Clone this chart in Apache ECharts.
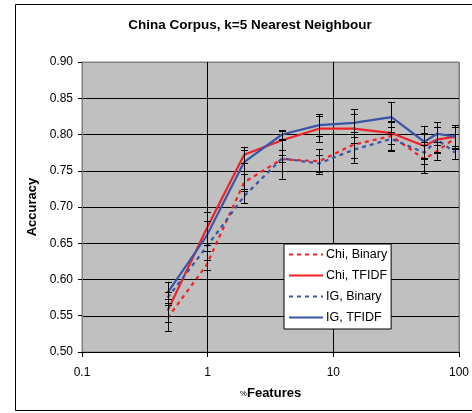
<!DOCTYPE html>
<html>
<head>
<meta charset="utf-8">
<script src="https://cdn.jsdelivr.net/npm/echarts@6/dist/echarts.min.js"></script>
<style>
html,body{margin:0;padding:0;background:#fff;}
#c{width:472px;height:413px;}
</style>
</head>
<body>
<div id="c"></div>
<script>
// ---- data ----
const features = [0.48, 0.98, 1.95, 3.9, 7.7, 14.5, 29, 53, 67, 93];
const seriesNames = ['Chi, Binary', 'Chi, TFIDF', 'IG, Binary', 'IG, TFIDF'];
const chiBinary = [0.547, 0.620, 0.734, 0.766, 0.763, 0.786, 0.798, 0.766, 0.777, 0.795];
const chiTfidf  = [0.557, 0.670, 0.772, 0.792, 0.808, 0.808, 0.802, 0.784, 0.793, 0.797];
const igBinary  = [0.575, 0.645, 0.715, 0.767, 0.760, 0.779, 0.794, 0.775, 0.793, 0.775];
const igTfidf   = [0.582, 0.660, 0.762, 0.800, 0.813, 0.816, 0.824, 0.790, 0.801, 0.797];
const chiBinaryErr = [0.018, 0.007, 0.012, 0.027, 0.017, 0.018, 0.020, 0.019, 0.012, 0.015];
const chiTfidfErr  = [0.016, 0.023, 0.011, 0.013, 0.018, 0.020, 0.015, 0.018, 0.018, 0.013];
const igBinaryErr  = [0.008, 0.005, 0.010, 0.005, 0.012, 0.018, 0.017, 0.015, 0.017, 0.009];
const igTfidfErr   = [0.015, 0.021, 0.016, 0.006, 0.015, 0.019, 0.021, 0.022, 0.016, 0.016];
const yTicks = ['0.50','0.55','0.60','0.65','0.70','0.75','0.80','0.85','0.90'];
const xTicks = ['0.1','1','10','100'];

const values = [chiBinary, chiTfidf, igBinary, igTfidf];
const errs = [chiBinaryErr, chiTfidfErr, igBinaryErr, igTfidfErr];
const colors = ['#ee2227', '#ee2227', '#3a55a8', '#3a55a8'];
const dashed = [true, false, true, false];

const FONT = '"Liberation Sans", Arial, sans-serif';

function pairs(vals){ return features.map((f,i)=>[f, vals[i]]); }
function errData(vals, e){ return features.map((f,i)=>[f, vals[i]-e[i], vals[i]+e[i]]); }

function renderErr(params, api){
  const x = api.value(0), lo = api.value(1), hi = api.value(2);
  const pt = api.coord([x, hi]), pb = api.coord([x, lo]);
  const cx = Math.round(pt[0]) + 0.5;
  const w = 3.5;
  const st = {stroke:'#000', lineWidth:1};
  return {type:'group', children:[
    {type:'line', shape:{x1:cx, y1:pt[1], x2:cx, y2:pb[1]}, style:st},
    {type:'line', shape:{x1:cx-w, y1:Math.round(pt[1])+0.5, x2:cx+w, y2:Math.round(pt[1])+0.5}, style:st},
    {type:'line', shape:{x1:cx-w, y1:Math.round(pb[1])+0.5, x2:cx+w, y2:Math.round(pb[1])+0.5}, style:st}
  ]};
}

const series = [];
seriesNames.forEach((n,i)=>{
  series.push({
    name:n, type:'line', data:pairs(values[i]), symbol:'none', z:3,
    lineStyle:{color:colors[i], width:2.2, type: dashed[i] ? [4,4] : 'solid'},
    itemStyle:{color:colors[i]}
  });
});
seriesNames.forEach((n,i)=>{
  series.push({
    name:'err'+i, type:'custom', renderItem:renderErr, data:errData(values[i], errs[i]),
    encode:{x:0, y:[1,2]}, z:5, silent:true
  });
});

const chart = echarts.init(document.getElementById('c'), null, {renderer:'canvas'});
chart.setOption({
  animation:false,
  backgroundColor:'#fff',
  textStyle:{fontFamily:FONT},
  grid:{left:82, right:8, top:62, bottom:61, show:true, backgroundColor:'#c0c0c0', borderColor:'#808080', borderWidth:1},
  xAxis:{
    type:'log', logBase:10, min:0.1, max:100,
    axisLine:{show:true, lineStyle:{color:'#000', width:1}},
    axisTick:{show:true, inside:false, length:5, lineStyle:{color:'#000'}},
    minorTick:{show:false},
    axisLabel:{color:'#000', fontSize:12, fontFamily:FONT, margin:15,
      formatter:(v)=>{ const idx = Math.round(Math.log10(v))+1; return xTicks[idx] !== undefined ? xTicks[idx] : ''; }},
    splitLine:{show:true, lineStyle:{color:['#808080','#000','#000','#808080'], width:1}},
    name:'{p|%}{b|Features}', nameLocation:'middle', nameGap:35,
    nameTextStyle:{rich:{p:{fontSize:8, fontFamily:FONT, color:'#000'}, b:{fontSize:13, fontWeight:'bold', fontFamily:FONT, color:'#000'}}}
  },
  yAxis:{
    type:'value', min:0.5, max:0.9, interval:0.05,
    axisLine:{show:true, lineStyle:{color:'#808080', width:1}},
    axisTick:{show:true, inside:false, length:4, lineStyle:{color:'#000'}},
    axisLabel:{color:'#000', fontSize:12, fontFamily:FONT, margin:9,
      formatter:(v)=>yTicks[Math.round((v-0.5)/0.05)]},
    splitLine:{show:true, lineStyle:{color:['#000','#000','#000','#000','#000','#000','#000','#000','#808080'], width:1}},
    name:'Accuracy', nameLocation:'middle', nameGap:43, nameRotate:90,
    nameTextStyle:{fontSize:13, fontWeight:'bold', color:'#000', fontFamily:FONT}
  },
  legend:{
    data:seriesNames, orient:'vertical', left:284, top:244,
    itemWidth:34, itemHeight:12, itemGap:8,
    padding:[4,4,5,4], backgroundColor:'#fff', borderColor:'#000', borderWidth:1,
    itemStyle:{opacity:0},
    textStyle:{fontSize:12.5, color:'#000', fontFamily:FONT, padding:[0,0,0,-2]},
    selectedMode:false
  },
  graphic:[
    {type:'rect', shape:{x:15.5, y:4.5, width:520, height:406}, style:{fill:null, stroke:'#000', lineWidth:1}, z:-10, silent:true},
    {type:'text', x:250, y:25, style:{text:'China Corpus, k=5 Nearest Neighbour', font:'bold 13.5px '+FONT, fill:'#000', textAlign:'center', textVerticalAlign:'middle'}}
  ],
  series:series
});
</script>
</body>
</html>
